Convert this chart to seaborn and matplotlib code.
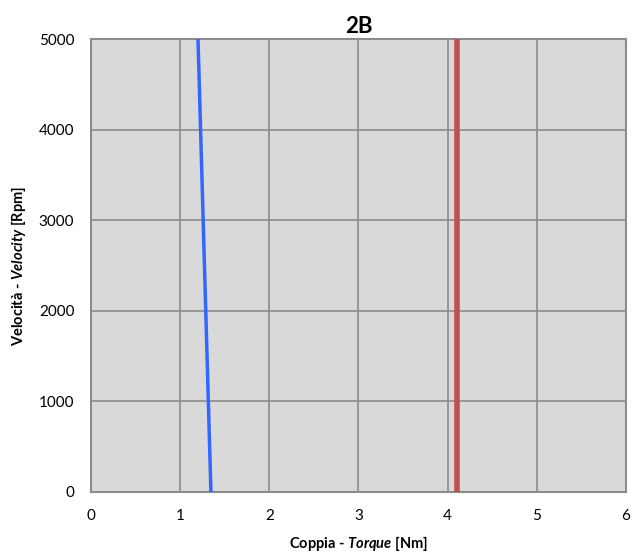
import matplotlib
matplotlib.use("Agg")
import matplotlib.pyplot as plt
import seaborn as sns
import pandas as pd

# Data
blue_torque = [1.345, 1.20]
blue_speed = [0, 5000]
red_torque = [4.10, 4.10]
red_speed = [0, 5000]

sns.set_style("white")
plt.rcParams['font.family'] = ['Lato', 'DejaVu Sans']
plt.rcParams['mathtext.fontset'] = 'custom'
plt.rcParams['mathtext.bfit'] = 'Lato:italic:bold'
plt.rcParams['mathtext.it'] = 'Lato:italic'
plt.rcParams['mathtext.bf'] = 'Lato:bold'
plt.rcParams['text.color'] = 'black'
plt.rcParams['axes.labelcolor'] = 'black'
plt.rcParams['xtick.color'] = 'black'
plt.rcParams['ytick.color'] = 'black'

fig = plt.figure(figsize=(6.44, 5.58), dpi=100)
ax = fig.add_axes([0.1413, 0.1183, 0.8307, 0.8118])
ax.set_facecolor('#d9d9d9')

blue_df = pd.DataFrame({'torque': blue_torque, 'speed': blue_speed})
red_df = pd.DataFrame({'torque': red_torque, 'speed': red_speed})
sns.lineplot(data=blue_df, x='torque', y='speed', sort=False, estimator=None,
             color='#3366ff', linewidth=2.5, ax=ax, zorder=3)
sns.lineplot(data=red_df, x='torque', y='speed', sort=False, estimator=None,
             color='#c0504d', linewidth=4, ax=ax, zorder=3)

ax.set_xlim(0, 6)
ax.set_ylim(0, 5000)
ax.set_xticks(range(0, 7))
ax.set_yticks(range(0, 5001, 1000))
ax.grid(True, color='#8c8c8c', linewidth=1.2)
ax.set_axisbelow(True)
for s in ax.spines.values():
    s.set_color('#8c8c8c')
    s.set_linewidth(1.5)
ax.tick_params(length=0, labelsize=11, pad=12)

ax.set_xlabel(r'Coppia - $\mathbfit{Torque}$ [Nm]', fontsize=10.5, fontweight='bold', labelpad=8)
ax.set_ylabel(r'Velocità - $\mathbfit{Velocity}$ [Rpm]', fontsize=10.5, fontweight='bold', labelpad=8)
ax.set_title('2B', fontsize=16, fontweight='bold', pad=4)

fig.savefig('out.png', dpi=100)
